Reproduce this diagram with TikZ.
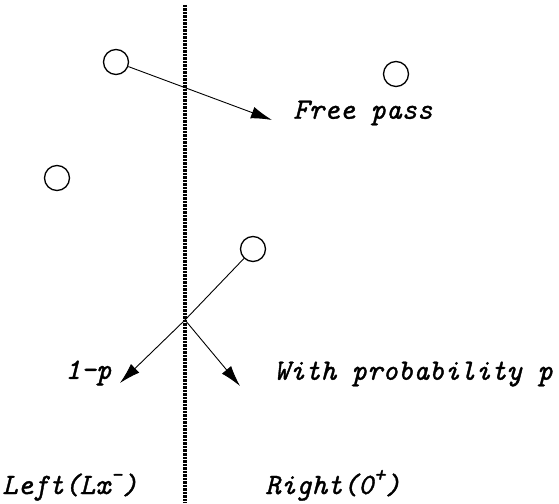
\documentclass[tikz,border=0pt]{standalone}
\usepackage{fontspec}
\newfontfamily\lblfont{Latin Modern Mono}[FakeBold=1.2]
\usetikzlibrary{arrows.meta}
\newcommand\mysup[1]{\raisebox{0.42em}{\fontsize{22pt}{22pt}\selectfont #1}}
\tikzset{
  px/.style={x=1pt,y=1pt},
  particle/.style={draw,circle,line width=1.3pt,minimum size=25pt,inner sep=0pt},
  barrier/.style={line width=3.2pt,dash pattern=on 2.5pt off 1pt},
  flow/.style={line width=0.9pt,-{Latex[length=21pt,width=12pt]}},
  lbl/.style={font=\fontsize{29.5pt}{32pt}\selectfont\lblfont\itshape,anchor=west,inner sep=0pt},
}
\begin{document}
\begin{tikzpicture}[px]
\useasboundingbox (0,0) rectangle (559,503);
\coordinate (btop) at (185,498);
\coordinate (bbot) at (185,0);
\draw[barrier] (btop) -- (bbot);
\node[particle] (c1) at (116,441) {};
\node[particle] (c2) at (396,429) {};
\node[particle] (c3) at (57,325) {};
\node[particle] (c4) at (253,254) {};
\coordinate (t1) at (272,383);
\coordinate (j) at (185,183);
\coordinate (tl) at (120,120);
\coordinate (tr) at (240,117);
\draw[flow] (c1) -- (t1);
\draw[line width=0.9pt] (c4) -- (j);
\draw[flow] (j) -- (tl);
\draw[flow] (j) -- (tr);
\node[lbl] (fp) at (293,390) {Free pass};
\node[lbl] (p1) at (65,130) {1-p};
\node[lbl] (wp) at (274,129) {With probability p};
\node[lbl,anchor=base west] (lf) at (2,9) {Left(Lx\mysup{-})};
\node[lbl,anchor=base west] (rt) at (265,9) {Right(0\mysup{+})};
\end{tikzpicture}
\end{document}
